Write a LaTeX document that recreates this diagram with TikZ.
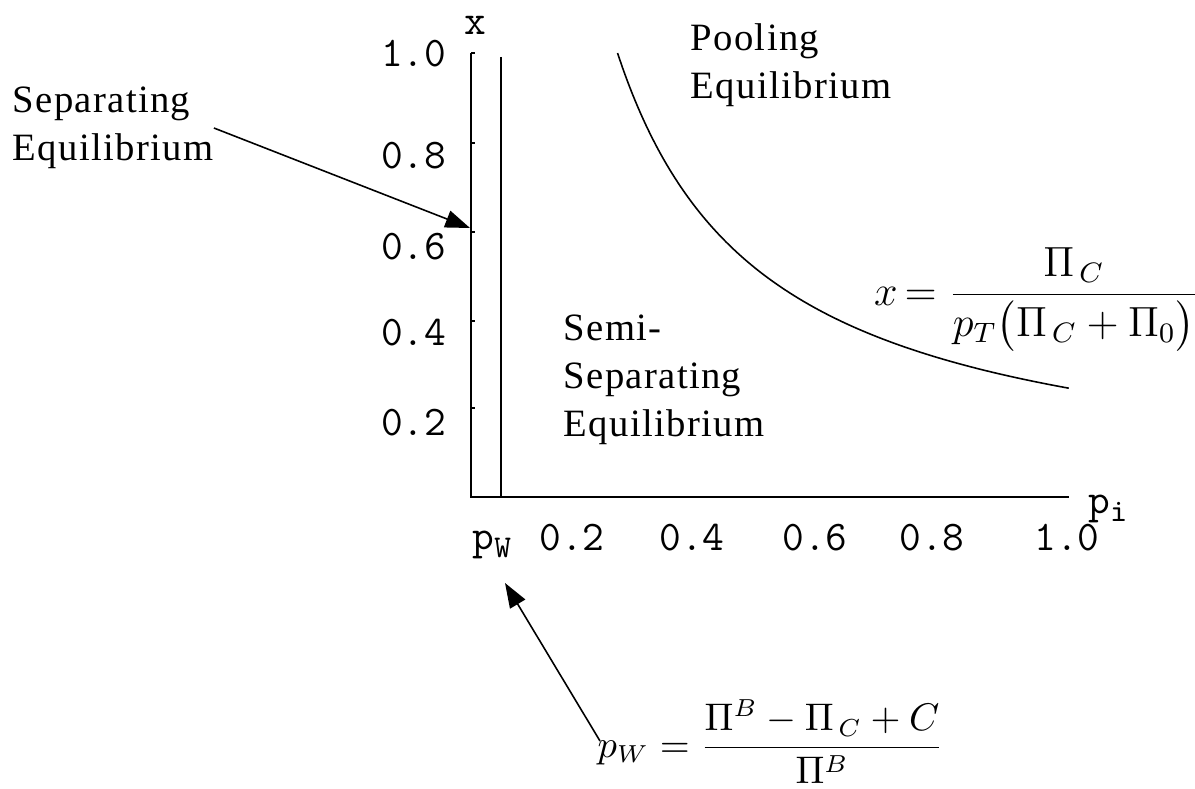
\documentclass[tikz,border=0pt]{standalone}
\usepackage{amsmath}
\usepackage{fontspec}
\setmainfont{Liberation Serif}
\usetikzlibrary{arrows.meta}
\tikzset{
  lbl/.style={font=\fontsize{11}{13.6}\selectfont\addfontfeature{LetterSpace=3.5},
              align=left, inner sep=0pt},
  tck/.style={font=\fontsize{12}{13}\selectfont\ttfamily, inner sep=0pt},
  ax/.style={line width=0.6pt},
  pointer/.style={line width=0.45pt, -{Triangle[length=7pt,width=5pt]}}
}

\begin{document}
\begin{tikzpicture}[x=0.01cm,y=-0.01cm]
  \useasboundingbox (0,0) rectangle (1195,788);
  \coordinate (O) at (471,497);
  \draw[ax] (471,53) -- (O) -- (1069,497);
  \draw[ax] (501,57) -- (501,497);
  \foreach \t in {53,143,232,321,408}{ \draw[ax] (471,\t) -- ++(4,0); }
  \foreach \v/\y in {1.0/54,0.8/156,0.6/247,0.4/333,0.2/423}
    \node[tck,anchor=east] (yt\y) at (447,\y) {\v};
  \foreach \v/\x in {0.2/572,0.4/692,0.6/815,0.8/932,1.0/1067}
    \node[tck] (xt\x) at (\x,538) {\v};
  \node[tck] (xlab) at (475,25) {x};
  \node[tck,anchor=base west] (pwlab) at (472,549)
    {p\raisebox{-2.5pt}{\fontsize{9}{9}\selectfont W}};
  \node[tck,anchor=base west] (pilab) at (1088,513)
    {p\raisebox{-2.5pt}{\fontsize{9}{9}\selectfont i}};
  \draw[line width=0.45pt] plot[domain=0.245:1,samples=80,smooth]
    ({471+598*\x},{497-444*0.245/\x});
  \node[lbl,anchor=west] (sep) at (12,128) {Separating\\Equilibrium};
  \node[lbl,anchor=west] (pool) at (690,65) {Pooling\\Equilibrium};
  \node[lbl,anchor=west] (semi) at (563,380) {Semi-\\Separating\\Equilibrium};
  \node[anchor=base east,inner sep=0pt,font=\fontsize{12}{15}\selectfont] (xform)
    at (1200,305) {$x\,{=}\; \dfrac{\Pi_{\,C}}{p_T\bigl(\Pi_{\,C} + \Pi_{0}\bigr)}$};
  \node[anchor=base west,inner sep=0pt,font=\fontsize{10.5}{13}\selectfont] (pwform)
    at (597,757) {$p_W = \dfrac{\Pi^{B} - \Pi_{\,C} + C}{\Pi^{B}}$};
  \coordinate (septip) at (470,228);
  \coordinate (pwtail) at (600,741);
  \coordinate (pwtip) at (505,583);
  \draw[pointer] (sep.east) -- (septip);
  \draw[pointer] (pwtail) -- (pwtip);
\end{tikzpicture}
\end{document}
